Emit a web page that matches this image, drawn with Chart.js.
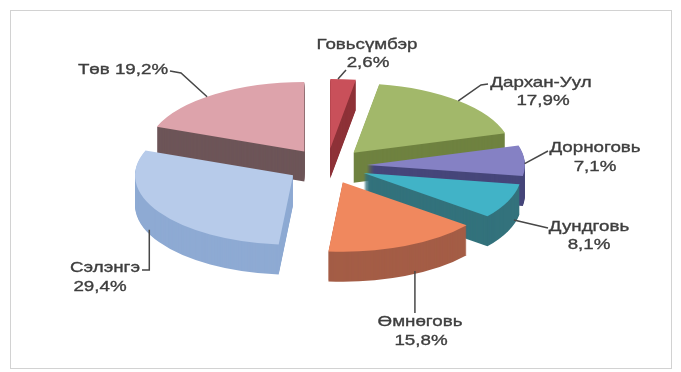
<!DOCTYPE html>
<html>
<head>
<meta charset="utf-8">
<script src="https://cdn.jsdelivr.net/npm/chart.js@4.4.1/dist/chart.umd.min.js"></script>
<style>
  html, body { margin: 0; padding: 0; background: #ffffff; }
  canvas { display: block; }
</style>
</head>
<body>
<canvas id="chart" width="681" height="372"></canvas>
<script>
// Regional shares, percent
const regions = ['Говьсүмбэр', 'Дархан-Уул', 'Дорноговь', 'Дундговь', 'Өмнөговь', 'Сэлэнгэ', 'Төв'];
const shares = [2.6, 17.9, 7.1, 8.1, 15.8, 29.4, 19.2];

// Top-face and side-wall colours per slice
const topColors  = ['#c9505a', '#a2b86a', '#8581c4', '#41b3c7', '#f0885e', '#b7cbea', '#dda3ab'];
const sideColors = ['#8e3238', '#6f8240', '#46467a', '#33727c', '#a45d46', '#8eaad3', '#6d5558'];

// 3D look
const SQUASH = 0.44;   // vertical flattening of the disc
const DEPTH = 30;      // thickness in px
const EXPLODE = 40;    // radial pull-out of every slice

// Where each label sits and how its leader reaches the slice
// at: position along the slice's outer edge (0..1), depth: point down the rim (0..1)
// path: leader points from the text toward the slice; x = null follows the anchor
const labelLayout = [
  { lines: [[367, 45], [368, 63]], path: [[346, 70]], at: 0.3, depth: 0 },
  { lines: [[541, 83], [543, 101]], path: [[488, 84], [481, 85]], at: 0.5, depth: 0 },
  { lines: [[595, 148], [595, 167]], path: [[548, 151]], at: 0.5, depth: 0.1 },
  { lines: [[589, 227], [589, 245]], path: [[548, 228]], at: 0.3, depth: 0.85 },
  { lines: [[420, 322], [421, 341]], path: [[null, 313]], at: 0.43, depth: 0.9 },
  { lines: [[105, 268], [100, 287]], path: [[142, 270], [null, 270]], at: 0.57, depth: 0.85 },
  { lines: [[123, 70]], path: [[170, 71], [181, 73]], at: 0.45, depth: 0 }
];

const fmt = v => v.toFixed(1).replace('.', ',') + '%';

function squash(ctx, cx, cy) {
  ctx.translate(cx, cy);
  ctx.scale(1, SQUASH);
  ctx.translate(-cx, -cy);
}

function drawArcAs(ctx, arc, color) {
  const proxy = Object.create(arc);
  proxy.options = Object.assign({}, arc.options, { backgroundColor: color, borderColor: color, borderWidth: 0 });
  arc.draw.call(proxy, ctx);
}

const pie3d = {
  id: 'pie3d',
  beforeDraw(chart) {
    const ctx = chart.ctx;
    ctx.save();
    ctx.strokeStyle = '#d2d2d2';
    ctx.lineWidth = 1;
    ctx.strokeRect(10.5, 10.5, 661, 358);
    ctx.restore();
  },
  beforeDatasetDraw(chart) {
    const ctx = chart.ctx;
    const arcs = chart.getDatasetMeta(0).data;
    const cx = arcs[0].x, cy = arcs[0].y;
    // paint from the back of the disc to the front
    const order = arcs.map((a, i) => i).sort((i, j) => {
      const mi = (arcs[i].startAngle + arcs[i].endAngle) / 2;
      const mj = (arcs[j].startAngle + arcs[j].endAngle) / 2;
      return Math.sin(mi) - Math.sin(mj);
    });
    order.forEach(i => {
      const arc = arcs[i];
      const mid = (arc.startAngle + arc.endAngle) / 2;
      const ox = Math.cos(mid) * EXPLODE, oy = Math.sin(mid) * EXPLODE;
      for (let d = DEPTH; d >= 0; d--) {
        ctx.save();
        ctx.translate(0, d);
        squash(ctx, cx, cy);
        ctx.translate(ox, oy);
        drawArcAs(ctx, arc, d === 0 ? topColors[i] : sideColors[i]);
        ctx.restore();
      }
    });
    return false;
  },
  afterDatasetsDraw(chart) {
    const ctx = chart.ctx;
    const arcs = chart.getDatasetMeta(0).data;
    const cx = arcs[0].x, cy = arcs[0].y;
    ctx.save();
    ctx.font = '15px "Liberation Sans", Arial, sans-serif';
    ctx.fillStyle = '#3e3e3e';
    ctx.strokeStyle = '#474747';
    ctx.lineWidth = 1.5;
    ctx.textAlign = 'center';
    ctx.textBaseline = 'middle';
    arcs.forEach((arc, i) => {
      const lay = labelLayout[i];
      const mid = (arc.startAngle + arc.endAngle) / 2;
      const b = arc.startAngle + lay.at * (arc.endAngle - arc.startAngle);
      const r = arc.outerRadius;
      const px = cx + Math.cos(mid) * EXPLODE + r * Math.cos(b);
      const py = cy + SQUASH * (Math.sin(mid) * EXPLODE + r * Math.sin(b)) + lay.depth * DEPTH;
      ctx.beginPath();
      lay.path.forEach((p, k) => {
        const x = p[0] === null ? px : p[0];
        if (k === 0) ctx.moveTo(x, p[1]); else ctx.lineTo(x, p[1]);
      });
      ctx.lineTo(px, py);
      ctx.stroke();
      const texts = lay.lines.length === 1 ? [regions[i] + ' ' + fmt(shares[i])] : [regions[i], fmt(shares[i])];
      texts.forEach((t, k) => {
        const [tx, ty] = lay.lines[k];
        ctx.save();
        ctx.translate(tx, ty);
        ctx.scale(1.25, 1);
        ctx.lineWidth = 0.35;
        ctx.strokeStyle = '#3e3e3e';
        ctx.fillText(t, 0, 0);
        ctx.strokeText(t, 0, 0);
        ctx.restore();
      });
    });
    ctx.restore();
  }
};

new Chart(document.getElementById('chart'), {
  type: 'pie',
  data: {
    labels: regions,
    datasets: [{ data: shares, backgroundColor: topColors, borderWidth: 0 }]
  },
  options: {
    responsive: false,
    animation: false,
    devicePixelRatio: 1,
    radius: 158,
    layout: { padding: { left: 0, right: 27, top: 0, bottom: 40 } },
    events: [],
    plugins: { legend: { display: false }, tooltip: { enabled: false } }
  },
  plugins: [pie3d]
});
</script>
</body>
</html>
